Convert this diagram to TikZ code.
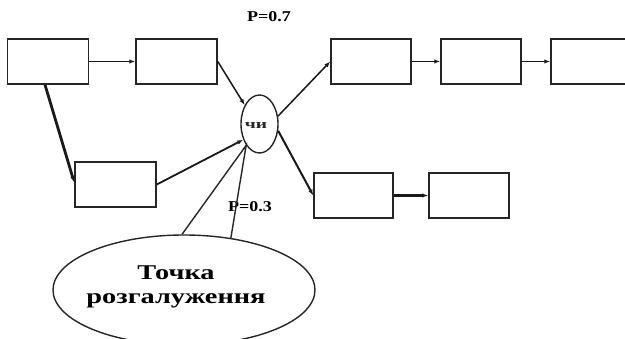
\documentclass[tikz,border=0pt]{standalone}
\usepackage{fontspec}
\setmainfont{Liberation Serif}
\usetikzlibrary{arrows.meta,shapes.geometric,calc}
\begin{document}
\begin{tikzpicture}[x=1pt,y=-1pt,
  blk/.style={draw=black!85,line width=1.5pt,minimum width=81pt,minimum height=45pt,inner sep=0pt,anchor=center},
  conn/.style={draw=black!90,line width=1.5pt,-{Latex[length=6pt,width=4.5pt]}},
  thk/.style={conn,line width=2.2pt},
  lbl/.style={font=\bfseries\fontsize{15}{15}\selectfont,xscale=1.2,inner sep=0pt}]
\useasboundingbox (0,0) rectangle (625,339);
\fill[white] (0,0) rectangle (625,339);
\node[blk] (A) at (48,61.5) {};
\node[blk] (B) at (176.5,61.5) {};
\node[blk] (C) at (115.5,184.5) {};
\node[blk,minimum width=80pt] (D) at (371,61.5) {};
\node[blk,minimum width=80pt] (E) at (481,61.5) {};
\node[blk,minimum width=78pt] (F) at (590,61.5) {};
\node[blk,minimum width=79pt] (G) at (353.5,195.5) {};
\node[blk,minimum width=80pt] (H) at (469,195.5) {};
\node[ellipse,draw=black!85,line width=1.4pt,minimum width=37pt,minimum height=58pt,inner sep=0pt] (chi) at (259.5,124) {};
\node[font=\bfseries\fontsize{13}{13}\selectfont,xscale=1.5,text=black!85] (chit) at (256,126) {чи};
\node[ellipse,draw=black!85,line width=1.4pt,minimum width=262pt,minimum height=110pt,inner sep=0pt] (call) at (184,290) {};
\node[font=\bfseries\fontsize{21}{24}\selectfont,xscale=1.35,align=center,inner sep=0pt] (calltxt) at (176,287) {Точка\\розгалуження};
\node[lbl] (p7) at (269,17) {P=0.7};
\node[lbl] (p3) at (250,207) {P=0.3};
\coordinate (tip) at (chi.238);
\draw[black!85,line width=1.4pt,line join=miter] (call.92) -- (tip) -- (call.48);
\draw[conn] (A.east) -- (B.west);
\draw[thk,line width=2.8pt] ($(A.south)+(-3,0)$) -- ($(C.west)+(0,-2)$);
\draw[conn] (B.east) -- (chi.128);
\draw[conn,line width=1.8pt] (C.east) -- (chi.224);
\draw[conn] (chi.23) -- (D.west);
\draw[conn,line width=2pt] (chi.340) -- (G.west);
\draw[conn] (D.east) -- (E.west);
\draw[conn] (E.east) -- (F.west);
\draw[thk] (G.east) -- (H.west);
\end{tikzpicture}
\end{document}
